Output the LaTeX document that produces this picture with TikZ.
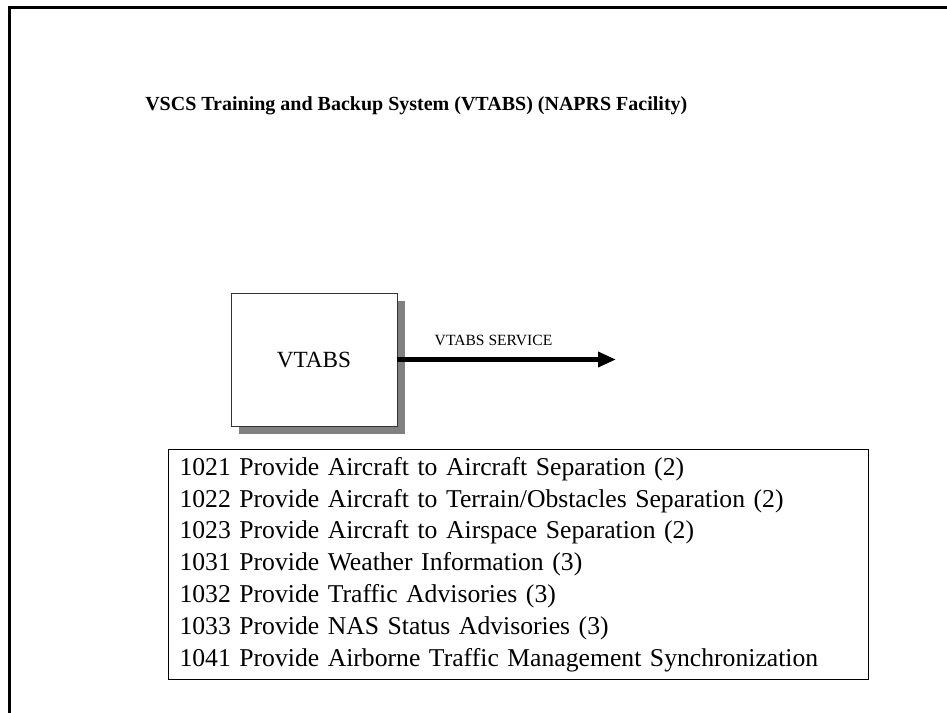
\documentclass[tikz,border=0pt]{standalone}
\usepackage{fontspec}
\setmainfont{Liberation Serif}
\usetikzlibrary{arrows.meta,shadows}
\begin{document}
\begin{tikzpicture}[x=0.75pt, y=-0.75pt,
    sys/.style={rectangle, draw=black!80, fill=white, minimum width=124.5pt, minimum height=99.75pt,
        font=\fontsize{17.4}{20}\selectfont,
        drop shadow={shadow xshift=6pt, shadow yshift=-6pt, fill=black!50, opacity=1}},
    flow/.style={line width=3.75pt, -{Triangle[length=13.5pt, width=11pt]}},
    lst/.style={rectangle, draw=black, line width=0.75pt, align=left, text width=508.5pt,
        inner xsep=8.25pt, minimum height=172.5pt, font=\fontsize{19.25}{23.85}\selectfont}
]
\useasboundingbox (0,0) rectangle (947,713);
\draw[line width=2.25pt] (9.5,713) -- (9.5,7.5) -- (947,7.5);
\node[anchor=base west, inner sep=0pt, font=\bfseries\fontsize{15}{18}\selectfont] (title) at (145,111)
    {VSCS Training and Backup System (VTABS) (NAPRS Facility)};
\node[sys] (vtabs) at (314,359.5) {VTABS};
\coordinate (svcend) at (616,359.5);
\draw[flow] (vtabs.east) -- node[pos=0.44, above=5pt, font=\fontsize{11.7}{14}\selectfont] (svc) {VTABS SERVICE} (svcend);
\node[lst, anchor=north west] (funcs) at (168,449) {%
    1021 Provide Aircraft to Aircraft Separation (2)\\
    1022 Provide Aircraft to Terrain/Obstacles Separation (2)\\
    1023 Provide Aircraft to Airspace Separation (2)\\
    1031 Provide Weather Information (3)\\
    1032 Provide Traffic Advisories (3)\\
    1033 Provide NAS Status Advisories (3)\\
    1041 Provide Airborne Traffic Management Synchronization};
\end{tikzpicture}
\end{document}
